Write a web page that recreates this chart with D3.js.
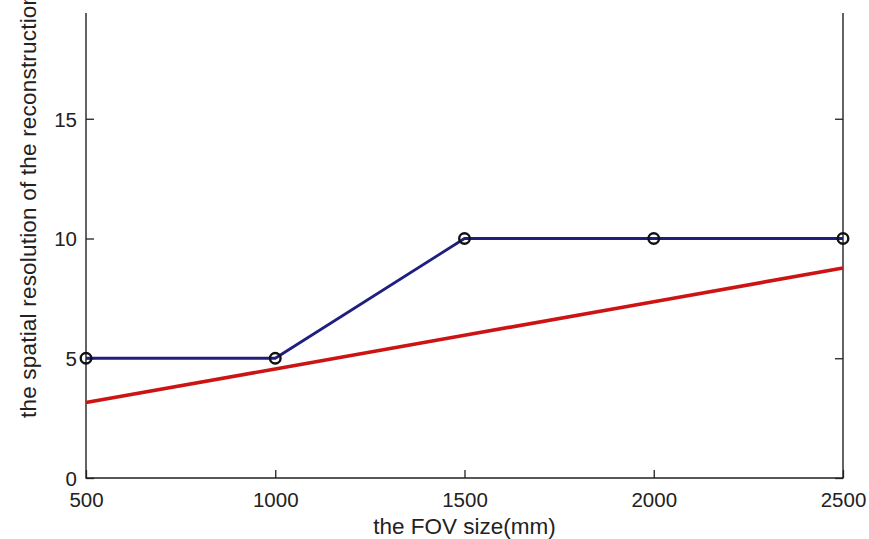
<!DOCTYPE html>
<html>
<head>
<meta charset="utf-8">
<script src="https://cdn.jsdelivr.net/npm/d3@7/dist/d3.min.js"></script>
<style>
	body { margin: 0; background: #fff; }
	text { font-family: "Liberation Sans", Arial, sans-serif; fill: #222; }
</style>
</head>
<body>
<div id="chart"></div>
<script>
var fovSize = [500, 1000, 1500, 2000, 2500];
var measured = [5, 5, 10, 10, 10];
var fitted = [3.15, 4.55, 5.96, 7.36, 8.77];
var xTicks = [500, 1000, 1500, 2000, 2500];
var yTicks = [0, 5, 10, 15];

var width = 869, height = 539;
var plotLeft = 86, plotRight = 843, plotTop = 13, plotBottom = 478;

var svg = d3.select('#chart')
			.append('svg')
			.attr('width', width)
			.attr('height', height);

var x = d3.scaleLinear().domain([500, 2500]).range([plotLeft, plotRight]);
var y = d3.scaleLinear().domain([0, 20]).range([plotBottom, plotBottom - 20 * 23.95]);

// axes, ticks pointing inward like matlab
var xAxis = svg.append('g')
			.attr('transform', 'translate(0,' + plotBottom + ')')
			.call(d3.axisBottom(x).tickValues(xTicks).tickFormat(d3.format('d'))
				.tickSizeInner(-8).tickSizeOuter(0).tickPadding(14));
var yAxis = svg.append('g')
			.attr('transform', 'translate(' + plotLeft + ',0)')
			.call(d3.axisLeft(y).tickValues(yTicks).tickFormat(d3.format('d'))
				.tickSizeInner(-8).tickSizeOuter(0).tickPadding(9));
var yAxisR = svg.append('g')
			.attr('transform', 'translate(' + plotRight + ',0)')
			.call(d3.axisRight(y).tickValues(yTicks).tickFormat('')
				.tickSizeInner(-8).tickSizeOuter(0));

[xAxis, yAxis, yAxisR].forEach(function(g){
	g.select('.domain').remove();
	g.selectAll('line').attr('stroke', '#222').attr('stroke-width', 1.3);
	g.selectAll('text').style('font-size', '20.5px').attr('fill', '#222');
});
yAxis.selectAll('text').attr('dy', '0.36em');

// box edges (top is cut off in the picture)
svg.append('path')
	.attr('d', 'M' + plotLeft + ',' + plotTop + 'V' + plotBottom + 'H' + plotRight + 'V' + plotTop)
	.attr('fill', 'none')
	.attr('stroke', '#222')
	.attr('stroke-width', 1.4);

var line = d3.line()
			.x(function(d, i){ return x(fovSize[i]); })
			.y(function(d){ return y(d); });

svg.append('path')
	.datum(fitted)
	.attr('d', line)
	.attr('fill', 'none')
	.attr('stroke', '#cc1414')
	.attr('stroke-width', 3.6);

svg.append('path')
	.datum(measured)
	.attr('d', line)
	.attr('fill', 'none')
	.attr('stroke', '#1f1f80')
	.attr('stroke-width', 2.8);

svg.selectAll('circle.pt')
	.data(measured)
	.enter()
	.append('circle')
	.attr('class', 'pt')
	.attr('cx', function(d, i){ return x(fovSize[i]); })
	.attr('cy', function(d){ return y(d); })
	.attr('r', 5.3)
	.attr('fill', 'none')
	.attr('stroke', '#111')
	.attr('stroke-width', 2.4);

svg.append('text')
	.attr('x', (plotLeft + plotRight) / 2)
	.attr('y', 534)
	.attr('text-anchor', 'middle')
	.style('font-size', '22.5px')
	.text('the FOV size(mm)');

svg.append('text')
	.attr('transform', 'translate(36,418) rotate(-90)')
	.attr('text-anchor', 'start')
	.style('font-size', '22.5px')
	.style('letter-spacing', '0.2px')
	.text('the spatial resolution of the reconstruction image(mm)');
</script>
</body>
</html>
